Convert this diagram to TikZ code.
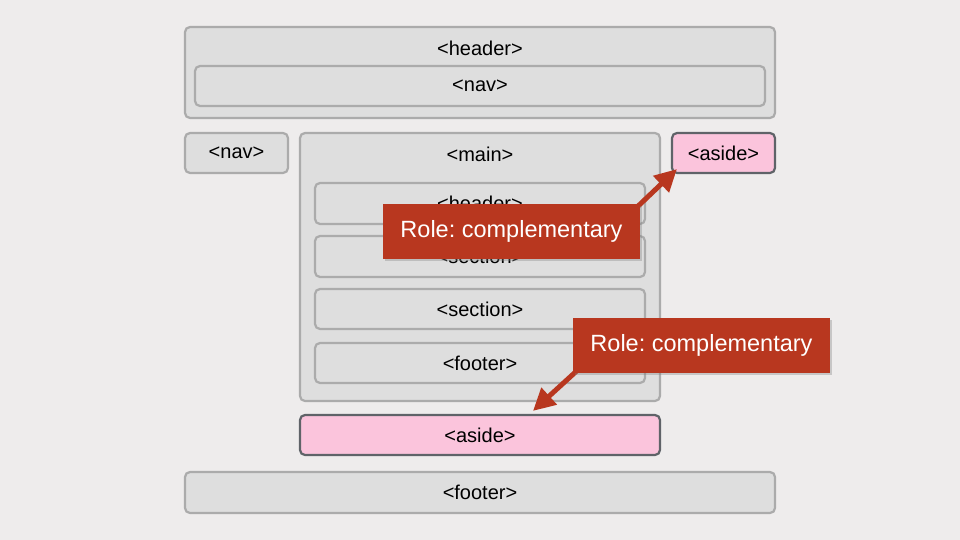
\documentclass[tikz,border=0pt]{standalone}
\usepackage{fontspec}
\setmainfont{Liberation Sans}
\usetikzlibrary{arrows.meta,shadows,calc}
\definecolor{bg}{HTML}{EEECEC}
\definecolor{boxfill}{HTML}{DEDEDE}
\definecolor{boxline}{HTML}{ABABAB}
\definecolor{pinkfill}{HTML}{FBC4DC}
\definecolor{pinkline}{HTML}{5F6368}
\definecolor{callred}{HTML}{B8371F}
\frenchspacing
\begin{document}
\begin{tikzpicture}[x=1pt,y=-1pt,
  box/.style={draw=boxline, fill=boxfill, line width=2.2pt, rounded corners=5pt, inner sep=0pt,
    font=\fontsize{20}{22}\selectfont, text=black},
  pinkbox/.style={box, draw=pinkline, fill=pinkfill},
  lbl/.style={inner sep=0pt, font=\fontsize{20}{22}\selectfont, text=black},
  callout/.style={fill=callred, text=white, inner sep=0pt, minimum width=257pt, minimum height=55pt,
    font=\fontsize{23.5}{25}\selectfont,
    drop shadow={opacity=0.35, shadow xshift=2pt, shadow yshift=-2pt}},
  callarrow/.style={draw=callred, line width=5pt, -{Triangle[length=22pt,width=22pt]}}
]
\fill[bg] (0,0) rectangle (960,540);
\useasboundingbox (0,0) rectangle (960,540);

\node[box, minimum width=590pt, minimum height=91pt] (hdr) at (480,72.5) {};
\node[lbl] (hdrl) at (480,48.5) {<header>};
\node[box, minimum width=570pt, minimum height=40pt] (hnav) at (480,86) {<nav>};

\node[box, minimum width=103pt, minimum height=40pt] (lnav) at (236.5,153) {<nav>};

\node[box, minimum width=360pt, minimum height=268pt] (main) at (480,267) {};
\node[lbl] (mainl) at (480,154.5) {<main>};
\node[box, minimum width=330pt, minimum height=41pt] (mhdr) at (480,203.5) {<header>};
\node[box, minimum width=330pt, minimum height=41pt] (sec1) at (480,256.5) {<section>};
\node[box, minimum width=330pt, minimum height=40pt] (sec2) at (480,309) {<section>};
\node[box, minimum width=330pt, minimum height=40pt] (mftr) at (480,363) {<footer>};

\node[pinkbox, minimum width=103pt, minimum height=40pt] (aside1) at (723.5,153) {<aside>};
\node[pinkbox, minimum width=360pt, minimum height=40pt] (aside2) at (480,435) {<aside>};

\node[box, minimum width=590pt, minimum height=41pt] (ftr) at (480,492.5) {<footer>};

\coordinate (s1) at (634,210);
\coordinate (t1) at ($(aside1.south west)+(6,-5)$);
\draw[callarrow] (s1) -- (t1);
\node[callout] (c1) at (511.5,231.5) {Role: complementary};

\coordinate (s2) at (581,367);
\coordinate (t2) at ($(aside2.north)+(53,-3)$);
\draw[callarrow] (s2) -- (t2);
\node[callout] (c2) at (701.5,345) {Role: complementary};
\end{tikzpicture}
\end{document}
